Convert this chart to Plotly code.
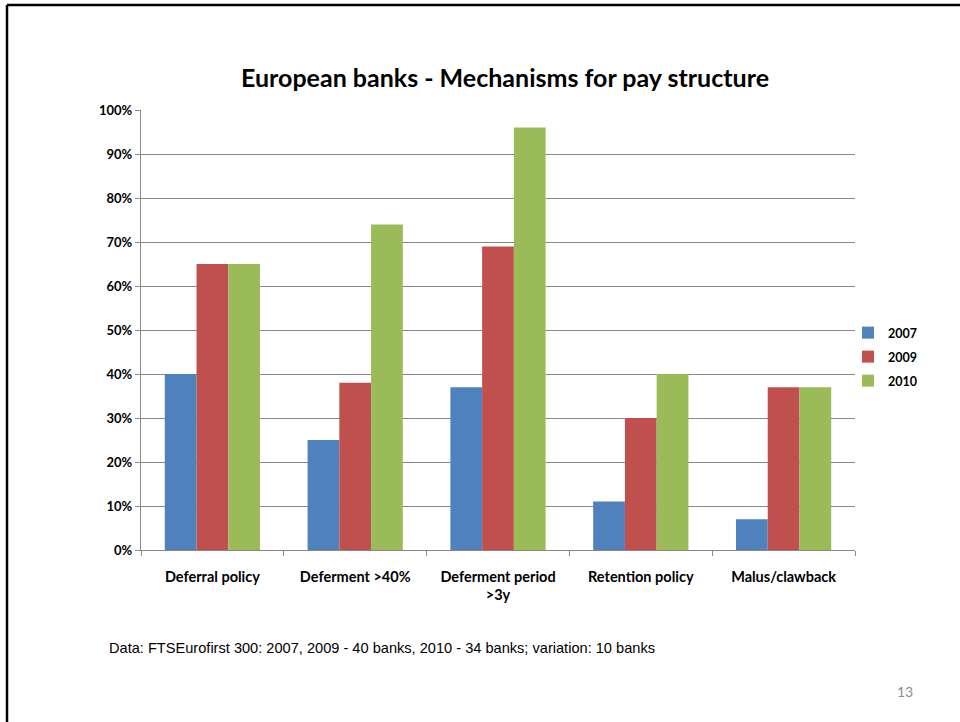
import plotly.graph_objects as go

categories = ["Deferral policy", "Deferment >40%", "Deferment period<br>>3y", "Retention policy", "Malus/clawback"]
years = ["2007", "2009", "2010"]
v2007 = [40, 25, 37, 11, 7]
v2009 = [65, 38, 69, 30, 37]
v2010 = [65, 74, 96, 40, 37]
colors = ["#4F81BD", "#C0504D", "#9BBB59"]
yticks = [0, 10, 20, 30, 40, 50, 60, 70, 80, 90, 100]
yticktext = [f"{v}%" for v in yticks]

L, R, T, B = 141, 105, 110, 172
W, H = 960 - L - R, 722 - T - B

def px(x):
    return (x - L) / W

def py(y):
    return (722 - B - y) / H

legend_names = ["legend", "legend2", "legend3"]
legend_y = [333, 357, 381]

fig = go.Figure()
for name, vals, c, lg in zip(years, [v2007, v2009, v2010], colors, legend_names):
    fig.add_trace(go.Bar(x=categories, y=vals, name=name, legend=lg,
                         marker=dict(color=c, line=dict(width=0))))

legend_common = dict(xanchor="left", yanchor="middle",
                     font=dict(size=12.5, family="Lato", color="#000000", weight="bold"),
                     itemwidth=30, bgcolor="rgba(0,0,0,0)", borderwidth=0)
layout_legends = {}
for lg, ly in zip(legend_names, legend_y):
    layout_legends[lg] = dict(x=px(848), y=py(ly), **legend_common)

fig.update_layout(
    width=960, height=722,
    margin=dict(l=L, r=R, t=T, b=B),
    paper_bgcolor="white", plot_bgcolor="white",
    barmode="group", bargap=0.333, bargroupgap=0,
    font=dict(family="Lato", color="#000000"),
    title=dict(text="<b>European banks - Mechanisms for pay structure</b>",
               x=505 / 960, xanchor="center", y=1 - 78 / 722, yanchor="middle",
               font=dict(size=25, family="Lato", color="#000000")),
    showlegend=True,
    **layout_legends,
)
fig.update_yaxes(range=[0, 100], tickvals=yticks, ticktext=yticktext,
                 showgrid=True, gridcolor="#888888", gridwidth=1.3,
                 showline=True, linecolor="#888888", linewidth=1.3,
                 ticks="outside", ticklen=5, tickcolor="#888888",
                 tickfont=dict(size=13, family="Lato", color="#000000", weight="bold"),
                 zeroline=False)
fig.update_xaxes(showline=True, linecolor="#888888", linewidth=1.3,
                 ticks="outside", ticklen=5, tickcolor="#888888", tickson="boundaries",
                 ticklabelstandoff=13,
                 tickfont=dict(size=14.5, family="Lato", color="#000000", weight="bold"),
                 showgrid=False)

# slide frame
fig.add_shape(type="line", xref="paper", yref="paper", x0=px(7), x1=px(965), y0=py(5), y1=py(5),
              line=dict(color="black", width=2.5))
fig.add_shape(type="line", xref="paper", yref="paper", x0=px(7), x1=px(7), y0=py(5), y1=py(730),
              line=dict(color="black", width=2.5))

fig.add_annotation(text="Data: FTSEurofirst 300: 2007, 2009 - 40 banks, 2010 - 34 banks; variation: 10 banks",
                   xref="paper", yref="paper", x=px(107), y=py(648), xanchor="left", yanchor="middle",
                   showarrow=False, font=dict(size=14.6, family="Liberation Sans", color="#000000"))
fig.add_annotation(text="13", xref="paper", yref="paper", x=px(905), y=py(691), xanchor="center", yanchor="middle",
                   showarrow=False, font=dict(size=14, family="Lato", color="#8C8C8C"))

fig.write_html("out.html")
